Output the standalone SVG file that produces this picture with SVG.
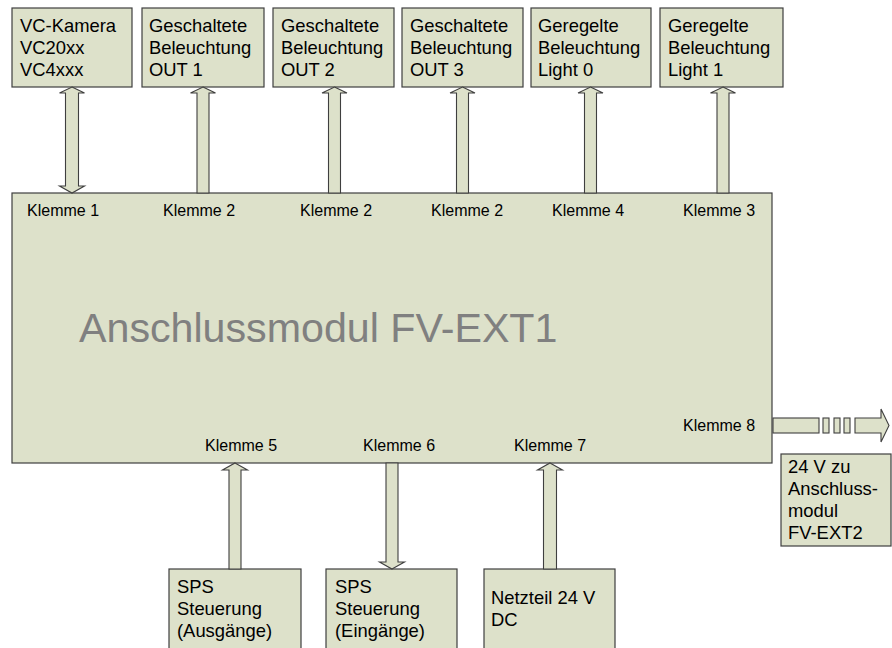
<svg xmlns="http://www.w3.org/2000/svg" width="892" height="648" viewBox="0 0 892 648">
<style>
.box{fill:#dde1ca;stroke:#3f3f3f;stroke-width:1.2}
.arr{fill:#dde1ca;stroke:#3f3f3f;stroke-width:1.1;stroke-linejoin:miter}
.t{font-family:"Liberation Sans",Arial,sans-serif;font-size:18.4px;fill:#000}
.k{font-family:"Liberation Sans",Arial,sans-serif;font-size:16px;fill:#000}
.title{font-family:"Liberation Sans",Arial,sans-serif;font-size:41.2px;fill:#808080}
</style>
<rect width="892" height="648" fill="#fff"/>
<g id="main">
<rect class="box" x="12" y="193" width="760" height="270"/>
<text class="title" x="79" y="342">Anschlussmodul FV-EXT1</text>
<text class="k" x="27" y="216">Klemme 1</text>
<text class="k" x="163" y="216">Klemme 2</text>
<text class="k" x="300" y="216">Klemme 2</text>
<text class="k" x="431" y="216">Klemme 2</text>
<text class="k" x="552" y="216">Klemme 4</text>
<text class="k" x="683" y="216">Klemme 3</text>
<text class="k" x="205" y="451">Klemme 5</text>
<text class="k" x="363" y="451">Klemme 6</text>
<text class="k" x="514" y="451">Klemme 7</text>
<text class="k" x="683" y="431">Klemme 8</text>
</g>
<g id="cam">
<rect class="box" x="12" y="8" width="120" height="79"/>
<text class="t" x="20" y="32">VC-Kamera</text>
<text class="t" x="20" y="54">VC20xx</text>
<text class="t" x="20" y="76">VC4xxx</text>
</g>
<g id="out1">
<rect class="box" x="142" y="8" width="122" height="79"/>
<text class="t" x="149" y="32">Geschaltete</text>
<text class="t" x="149" y="54">Beleuchtung</text>
<text class="t" x="149" y="76">OUT 1</text>
</g>
<g id="out2">
<rect class="box" x="273" y="8" width="121" height="79"/>
<text class="t" x="281" y="32">Geschaltete</text>
<text class="t" x="281" y="54">Beleuchtung</text>
<text class="t" x="281" y="76">OUT 2</text>
</g>
<g id="out3">
<rect class="box" x="402" y="8" width="121" height="79"/>
<text class="t" x="410" y="32">Geschaltete</text>
<text class="t" x="410" y="54">Beleuchtung</text>
<text class="t" x="410" y="76">OUT 3</text>
</g>
<g id="light0">
<rect class="box" x="531" y="8" width="120" height="79"/>
<text class="t" x="538" y="32">Geregelte</text>
<text class="t" x="538" y="54">Beleuchtung</text>
<text class="t" x="538" y="76">Light 0</text>
</g>
<g id="light1">
<rect class="box" x="660" y="8" width="123" height="79"/>
<text class="t" x="668" y="32">Geregelte</text>
<text class="t" x="668" y="54">Beleuchtung</text>
<text class="t" x="668" y="76">Light 1</text>
</g>
<g id="spsout">
<rect class="box" x="169" y="569" width="132" height="90"/>
<text class="t" x="177" y="593">SPS</text>
<text class="t" x="177" y="615">Steuerung</text>
<text class="t" x="177" y="637">(Ausgänge)</text>
</g>
<g id="spsin">
<rect class="box" x="326" y="569" width="131" height="90"/>
<text class="t" x="335" y="593">SPS</text>
<text class="t" x="335" y="615">Steuerung</text>
<text class="t" x="335" y="637">(Eingänge)</text>
</g>
<g id="psu">
<rect class="box" x="484" y="569" width="131" height="90"/>
<text class="t" x="491" y="604">Netzteil 24 V</text>
<text class="t" x="491" y="626">DC</text>
</g>
<g id="ext2">
<rect class="box" x="781" y="454" width="110" height="92"/>
<text class="t" x="788" y="473">24 V zu</text>
<text class="t" x="788" y="495">Anschluss-</text>
<text class="t" x="788" y="517">modul</text>
<text class="t" x="788" y="539">FV-EXT2</text>
</g>
<g id="connectors">
<polygon class="arr" points="72,87 84.5,93 78.5,93 78.5,186 84.5,186 72,193 59.5,186 65.5,186 65.5,93 59.5,93"/>
<polygon class="arr" points="203,87 215.5,93 209,93 209,193 197,193 197,93 190.5,93"/>
<polygon class="arr" points="334.5,87 347,93 340.5,93 340.5,193 328.5,193 328.5,93 322,93"/>
<polygon class="arr" points="462.5,87 475,93 468.5,93 468.5,193 456.5,193 456.5,93 450,93"/>
<polygon class="arr" points="590.5,87 603,93 596.5,93 596.5,193 584.5,193 584.5,93 578,93"/>
<polygon class="arr" points="723,87 735.5,93 729,93 729,193 717,193 717,93 710.5,93"/>
<polygon class="arr" points="235,463 247.5,470 241,470 241,569 229,569 229,470 222.5,470"/>
<polygon class="arr" points="392,569 404.5,562 398,562 398,463 386,463 386,562 379.5,562"/>
<polygon class="arr" points="550,463 562.5,470 556.5,470 556.5,569 543.5,569 543.5,470 537.5,470"/>
<rect class="arr" x="773" y="418" width="46" height="15"/>
<rect class="arr" x="823" y="418" width="6" height="15"/>
<rect class="arr" x="834" y="418" width="6" height="15"/>
<rect class="arr" x="844" y="418" width="6" height="15"/>
<polygon class="arr" points="855,418 881,418 881,409 889,425.5 881,442 881,433 855,433"/>
</g>
</svg>
